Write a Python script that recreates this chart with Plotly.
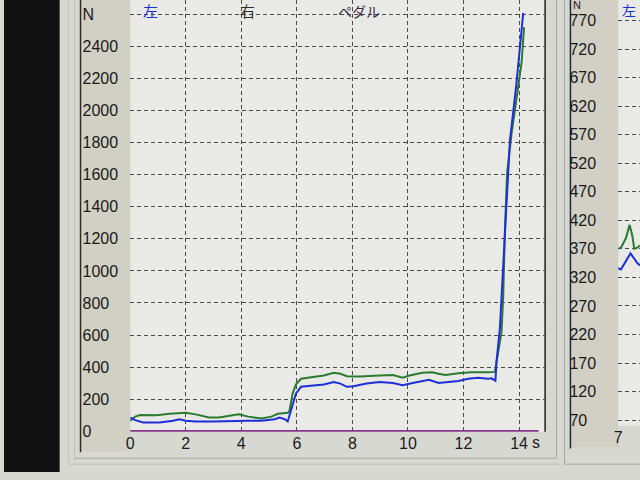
import plotly.graph_objects as go

W, H = 640, 480


def px(x):
    return x / W


def py(y):
    return 1 - y / H


# ---------------- main chart data (time in s, force in N) ----------------
t_right = [0.0, 0.18, 0.35, 0.95, 1.42, 2.0, 2.36, 2.84, 3.2, 3.66, 3.9, 4.25, 4.73,
           5.08, 5.32, 5.67, 5.73, 5.85, 5.97, 6.15, 6.62, 6.97, 7.33, 7.57, 7.8,
           8.27, 8.98, 9.46, 9.81, 10.05, 10.52, 10.87, 11.1, 11.35, 11.82, 12.29,
           12.88, 13.13, 13.37, 13.43, 13.49, 13.57, 13.73, 13.9, 14.09, 14.18]
right_N = [65, 91, 101, 99, 109, 115, 105, 85, 85, 101, 105, 91, 79,
           91, 109, 115, 125, 236, 293, 327, 337, 347, 364, 358, 343,
           341, 347, 351, 333, 347, 364, 368, 358, 351, 362, 368,
           368, 370, 620, 842, 1248, 1612, 1855, 2055, 2297, 2521]

t_left = [0.0, 0.18, 0.47, 1.06, 1.54, 1.77, 2.0, 2.36, 2.95, 3.55, 4.25, 4.73, 5.2,
          5.38, 5.56, 5.67, 5.79, 5.97, 6.15, 6.62, 6.97, 7.33, 7.57, 7.8, 8.04,
          8.51, 8.98, 9.46, 9.81, 10.17, 10.52, 10.76, 11.1, 11.47, 11.82, 12.17,
          12.53, 12.88, 13.01, 13.15, 13.19, 13.31, 13.49, 13.67, 13.9, 14.15]
left_N = [85, 69, 55, 55, 65, 75, 65, 61, 61, 65, 65, 65, 75,
          85, 75, 61, 135, 236, 277, 283, 291, 307, 297, 277, 281,
          297, 307, 301, 287, 301, 313, 321, 301, 307, 313, 327,
          333, 327, 330, 315, 437, 642, 1248, 1812, 2158, 2610]

t_pedal = [0.0, 14.7]
pedal_N = [0, 0]

x_ticks = [0, 2, 4, 6, 8, 10, 12, 14]
y_ticks = [0, 200, 400, 600, 800, 1000, 1200, 1400, 1600, 1800, 2000, 2200, 2400, 2600]
y_text = [str(v) for v in y_ticks[:-1]] + ["N"]

# ---------------- second (partial) chart data ----------------
t2_right = [7.0, 7.1, 7.28, 7.42, 7.52, 7.59, 7.7, 7.8]
right2_N = [370, 372, 388, 412, 393, 370, 372, 376]
t2_left = [7.0, 7.1, 7.24, 7.45, 7.59, 7.7, 7.8]
left2_N = [336, 334, 345, 362, 353, 345, 341]
x2_ticks = [7]
y2_ticks = [70, 120, 170, 220, 270, 320, 370, 420, 470, 520, 570, 620, 670, 720, 770]

series_names = ["左", "右", "ペダル"]
GREEN = "#2a7a30"
BLUE = "#1f2fd8"
PURPLE = "#8a348a"

NUM_FONT = dict(family="Liberation Sans, Arial, sans-serif", size=16, color="#1a1a1a")
CJK = "Noto Sans CJK JP, sans-serif"

MAIN_Y_RANGE = [-3, 2690]
Y2_RANGE = [60, 806]

fig = go.Figure()
fig.add_trace(go.Scatter(x=t_right, y=right_N, mode="lines", name=series_names[1],
                         line=dict(color=GREEN, width=2), xaxis="x", yaxis="y"))
fig.add_trace(go.Scatter(x=t_left, y=left_N, mode="lines", name=series_names[0],
                         line=dict(color=BLUE, width=2), xaxis="x", yaxis="y"))
fig.add_trace(go.Scatter(x=t_pedal, y=pedal_N, mode="lines", name=series_names[2],
                         line=dict(color=PURPLE, width=2.5), xaxis="x", yaxis="y",
                         cliponaxis=False))
# invisible carrier for the label-only overlay axis
fig.add_trace(go.Scatter(x=t_pedal, y=pedal_N, mode="lines", line=dict(width=0),
                         opacity=0, hoverinfo="skip", xaxis="x", yaxis="y3"))

fig.add_trace(go.Scatter(x=t2_right, y=right2_N, mode="lines", line=dict(color=GREEN, width=2),
                         xaxis="x2", yaxis="y2"))
fig.add_trace(go.Scatter(x=t2_left, y=left2_N, mode="lines", line=dict(color=BLUE, width=2),
                         xaxis="x2", yaxis="y2"))
fig.add_trace(go.Scatter(x=t2_left, y=left2_N, mode="lines", line=dict(width=0),
                         opacity=0, hoverinfo="skip", xaxis="x2", yaxis="y4"))

grid = dict(showgrid=True, gridcolor="#4a4a4a", gridwidth=1, griddash="4px,3px",
            zeroline=False, showline=False, ticks="")

fig.update_layout(
    width=W, height=H,
    margin=dict(l=0, r=0, t=0, b=0),
    paper_bgcolor="#d8d8d3",
    plot_bgcolor="#e9e9e6",
    showlegend=False,
    xaxis=dict(domain=[px(127), px(544)], range=[0, 14.92], tickvals=x_ticks,
               ticktext=[str(v) for v in x_ticks], tickfont=NUM_FONT,
               anchor="y", ticklabelstandoff=0, **grid),
    yaxis=dict(domain=[py(439), 1], range=MAIN_Y_RANGE, tickvals=y_ticks,
               showticklabels=False, anchor="x", **grid),
    yaxis3=dict(overlaying="y", anchor="free", position=px(78), side="right",
                range=MAIN_Y_RANGE, tickvals=y_ticks, ticktext=y_text, tickfont=NUM_FONT,
                showgrid=False, zeroline=False, showline=False, ticks=""),
    xaxis2=dict(domain=[px(618), 1], range=[7, 7.8], tickvals=x2_ticks,
                ticktext=[str(v) for v in x2_ticks], tickfont=NUM_FONT, anchor="y2",
                **grid),
    yaxis2=dict(domain=[py(433), 1], range=Y2_RANGE, tickvals=y2_ticks,
                showticklabels=False, anchor="x2", **grid),
    yaxis4=dict(overlaying="y2", anchor="free", position=px(568), side="right",
                range=Y2_RANGE, tickvals=y2_ticks, tickfont=NUM_FONT,
                showgrid=False, zeroline=False, showline=False, ticks=""),
)

shapes = []


def rect(x0, y0, x1, y1, fill, layer="below"):
    shapes.append(dict(type="rect", xref="paper", yref="paper", x0=px(x0), x1=px(x1),
                       y0=py(y1), y1=py(y0), fillcolor=fill, line=dict(width=0), layer=layer))


def line(x0, y0, x1, y1, color, width=1):
    shapes.append(dict(type="line", xref="paper", yref="paper", x0=px(x0), x1=px(x1),
                       y0=py(y0), y1=py(y1), line=dict(color=color, width=width), layer="below"))


rect(0, 0, 56, 480, "#121212")
rect(77, 0, 127, 459, "#d2cfc4")
rect(570, 0, 618, 455, "#d2cfc4")
line(65, 0, 65, 472, "#c2c2bc")
line(71, 0, 71, 468, "#c2c2bc")
line(77, 0, 77, 460, "#2a2a2a", 1.5)
line(71, 466, 556, 466, "#a8a8a3")
line(65, 472, 560, 472, "#bdbdb8")
line(544.5, 0, 544.5, 439, "#222222", 1.5)
line(556, 0, 556, 466, "#a8a8a3")
line(564, 0, 564, 472, "#a8a8a3")
line(570, 0, 570, 456, "#1c2646", 1.5)
line(564, 472, 640, 472, "#a8a8a3")
fig.update_layout(shapes=shapes)

ann = []


def text(x, y, s, color="#1a1a1a", size=16, family=CJK, xanchor="center"):
    ann.append(dict(x=px(x), y=py(y), xref="paper", yref="paper", text=s, showarrow=False,
                    font=dict(family=family, size=size, color=color), xanchor=xanchor,
                    yanchor="middle"))


text(147, 11, series_names[0], BLUE, 15)
text(245, 11, series_names[1], "#2e2e2e", 15)
text(357, 11, series_names[2], "#3a2c44", 14)
text(529, 450, "s", family=NUM_FONT["family"], xanchor="left")
text(571, 5, "N", size=11, family=NUM_FONT["family"], xanchor="left")
text(629, 10, series_names[0], BLUE, 14)
fig.update_layout(annotations=ann)

fig.write_html(
    "out.html",
    config={"displayModeBar": False},
    post_script="document.body.style.margin='0';document.body.style.overflow='hidden';",
)
